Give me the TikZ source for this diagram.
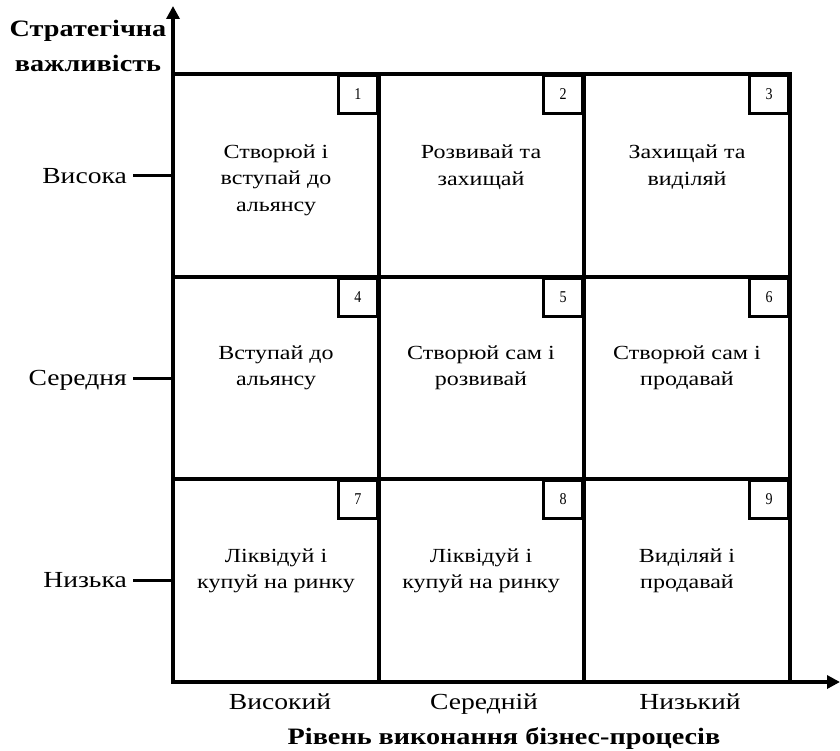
\documentclass[tikz,border=0pt]{standalone}
\usepackage{fontspec}
\setmainfont{Liberation Serif}[FakeStretch=1.2]
\newfontfamily\numfont{Liberation Serif}[FakeStretch=0.85]
\usetikzlibrary{arrows.meta}
\begin{document}
\begin{tikzpicture}[x=1pt,y=-1pt,
  axis/.style={line width=4.5pt},
  gridline/.style={line width=3.5pt},
  tickline/.style={line width=3pt},
  numbox/.style={draw,line width=3pt,minimum width=39pt,minimum height=38pt,inner sep=0pt,anchor=north east,font=\numfont\fontsize{16.5}{18}\selectfont,text depth=0pt},
  celltext/.style={align=center,font=\fontsize{20}{26.5}\selectfont,inner sep=0pt},
  lvl/.style={font=\fontsize{23}{27}\selectfont,inner sep=0pt,anchor=base},
  bold/.style={font=\fontsize{23.5}{28}\selectfont\bfseries,inner sep=0pt,anchor=base}]
\useasboundingbox (0,0) rectangle (840,751);
% grid coordinates
\coordinate (O) at (173,682);
\coordinate (Ytop) at (173,6);
\coordinate (Xend) at (840,682);
\coordinate (TL) at (173,74);
\coordinate (TR) at (790,74);
\coordinate (BR) at (790,682);
\coordinate (c1t) at (379,74); \coordinate (c1b) at (379,682);
\coordinate (c2t) at (584,74); \coordinate (c2b) at (584,682);
\coordinate (r1l) at (173,277); \coordinate (r1r) at (790,277);
\coordinate (r2l) at (173,479); \coordinate (r2r) at (790,479);
% grid lines
\draw[gridline] (TL) -- (TR) -- (BR);
\draw[gridline] (c1t) -- (c1b);
\draw[gridline] (c2t) -- (c2b);
\draw[gridline] (r1l) -- (r1r);
\draw[gridline] (r2l) -- (r2r);
% axes
\draw[axis,-{Triangle[length=13pt,width=13pt]}] (O) -- (Ytop);
\draw[axis,-{Triangle[length=13pt,width=13pt]}] ([xshift=-2pt]O) -- (Xend);
% number boxes
\node[numbox] (n1) at (379,74) {1};
\node[numbox] (n2) at (584,74) {2};
\node[numbox] (n3) at (790,74) {3};
\node[numbox] (n4) at (379,277) {4};
\node[numbox] (n5) at (584,277) {5};
\node[numbox] (n6) at (790,277) {6};
\node[numbox] (n7) at (379,479) {7};
\node[numbox] (n8) at (584,479) {8};
\node[numbox] (n9) at (790,479) {9};
% cell texts
\node[celltext] (t1) at (276,180) {Створюй і\\вступай до\\альянсу};
\node[celltext] (t2) at (481,167) {Розвивай та\\захищай};
\node[celltext] (t3) at (687,167) {Захищай та\\виділяй};
\node[celltext] (t4) at (276,368) {Вступай до\\альянсу};
\node[celltext] (t5) at (481,368) {Створюй сам і\\розвивай};
\node[celltext] (t6) at (687,368) {Створюй сам і\\продавай};
\node[celltext] (t7) at (276,571) {Ліквідуй і\\купуй на ринку};
\node[celltext] (t8) at (481,571) {Ліквідуй і\\купуй на ринку};
\node[celltext] (t9) at (687,571) {Виділяй і\\продавай};
% level labels (vertical)
\node[lvl,anchor=base east] (hi) at (127,184) {Висока};
\node[lvl,anchor=base east] (mid) at (127,385) {Середня};
\node[lvl,anchor=base east] (lo) at (127,587) {Низька};
\coordinate (hiT) at (133,176); \coordinate (hiA) at (173,176);
\coordinate (midT) at (133,378); \coordinate (midA) at (173,378);
\coordinate (loT) at (133,580); \coordinate (loA) at (173,580);
\draw[tickline] (hiT) -- (hiA);
\draw[tickline] (midT) -- (midA);
\draw[tickline] (loT) -- (loA);
% level labels (horizontal)
\node[lvl] (xh) at (280,709) {Високий};
\node[lvl] (xm) at (484,709) {Середній};
\node[lvl] (xl) at (690,709) {Низький};
% axis titles
\node[bold] (ytitle1) at (88,37) {Стратегічна};
\node[bold] (ytitle2) at (88,72) {важливість};
\node[bold] (xtitle) at (504,744) {Рівень виконання бізнес-процесів};
\end{tikzpicture}
\end{document}
